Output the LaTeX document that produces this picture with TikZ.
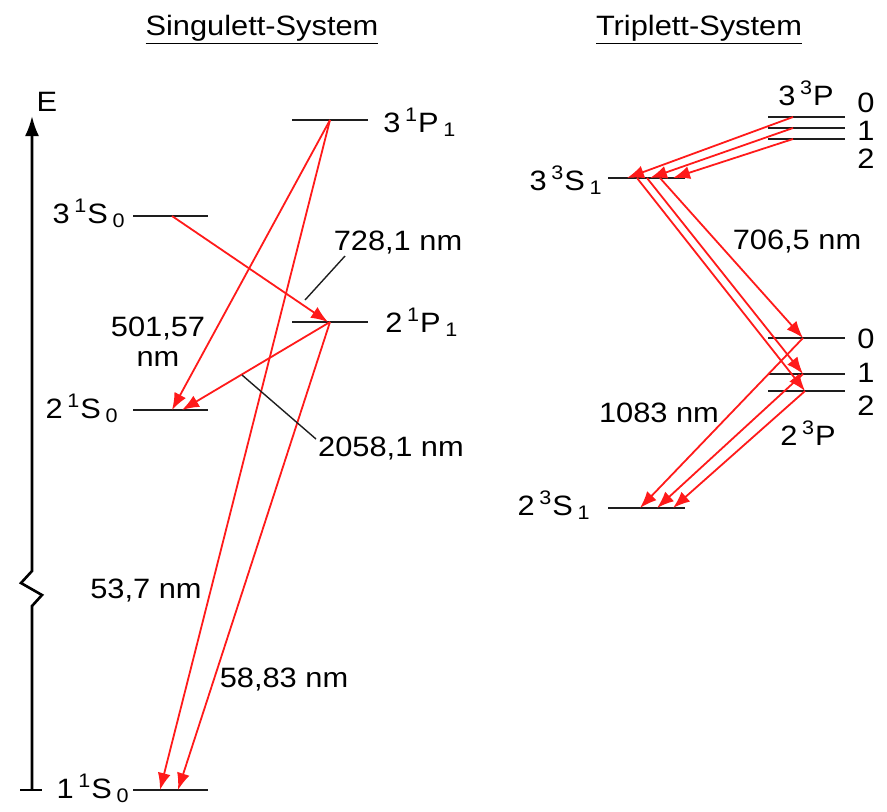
\documentclass[tikz,border=0pt]{standalone}
\usepackage{fontspec}
\setmainfont[FakeStretch=1.1]{Liberation Sans}
\usetikzlibrary{arrows.meta}
\definecolor{transred}{HTML}{FF1A1A}
\definecolor{levelink}{HTML}{1E1E1E}
\newcommand{\term}[4]{#1\,\textsuperscript{#2}#3\,\textsubscript{#4}}

\begin{document}
\begin{tikzpicture}[x=0.5pt, y=-0.5pt, font=\fontsize{14}{15}\selectfont,
  level/.style={levelink, line width=1.4pt},
  trans/.style={transred, line width=0.9pt, -{Latex[length=8.5pt, width=6.5pt]}},
  leader/.style={levelink, line width=0.7pt},
  wl/.style={inner sep=0pt, align=center},
  term/.style={inner sep=0pt, font=\fontsize{14}{15}\selectfont}]
  \useasboundingbox (0,0) rectangle (887,811);

  \node[wl] (singtitle) at (262,30) {\underline{Singulett-System}};
  \node[wl] (triptitle) at (699,30) {\underline{Triplett-System}};

  \coordinate (ebot) at (32,790);
  \coordinate (etop) at (32,116);
  \draw[line width=1.3pt, -{Latex[length=10pt, width=7pt]}]
    (ebot) -- (32,606) -- (42,595) -- (21,583) -- (32,571) -- (etop);
  \draw[line width=1.3pt] (20,790) -- (42,790);
  \node[wl] (elabel) at (47,102) {E};

  \foreach \xa/\xb/\y in {292/368/120, 133/208/216, 292/368/322, 133/208/410,
                          133/208/790, 608/685/178, 608/685/508,
                          768/845/117, 768/845/128, 768/845/139,
                          768/845/338, 768/845/374, 768/845/391}{%
    \draw[level] (\xa,\y) -- (\xb,\y);}

  \node[term, anchor=base west] (lab31P) at (383,132) {\term{3}{1}{P}{1}};
  \node[term, anchor=base east] (lab31S) at (126,223) {\term{3}{1}{S}{0}};
  \node[term, anchor=base west] (lab21P) at (385,332) {\term{2}{1}{P}{1}};
  \node[term, anchor=base east] (lab21S) at (119,418) {\term{2}{1}{S}{0}};
  \node[term, anchor=base east] (lab11S) at (130,798) {\term{1}{1}{S}{0}};
  \node[term, anchor=base east] (lab33S) at (603,190) {\term{3}{3}{S}{1}};
  \node[term, anchor=base east] (lab23S) at (591,515) {\term{2}{3}{S}{1}};
  \node[term, anchor=base west] (lab33P) at (778,105) {3\,\textsuperscript{3}P};
  \node[term, anchor=base west] (lab23P) at (780,445) {2\,\textsuperscript{3}P};
  \foreach \j/\y in {0/112, 1/140, 2/168}{%
    \node[term, anchor=base west] (j33P\j) at (857,\y) {\j};}
  \foreach \j/\y in {0/348, 1/382, 2/415}{%
    \node[term, anchor=base west] (j23P\j) at (857,\y) {\j};}

  \coordinate (s31P) at (330,120);
  \coordinate (s21P) at (330,322);
  \coordinate (s21Pin) at (328,322);
  \coordinate (s31S) at (172,216);
  \coordinate (s21Sa) at (172,410);
  \coordinate (s21Sb) at (182,410);
  \coordinate (s11Sa) at (160,790);
  \coordinate (s11Sb) at (178,790);

  \draw[trans] (s31P) -- (s21Sa);
  \draw[trans] (s31P) -- (s11Sa);
  \draw[trans] (s31S) -- (s21Pin);
  \draw[trans] (s21P) -- (s21Sb);
  \draw[trans] (s21P) -- (s11Sb);

  \node[wl] (w728) at (398,243) {728,1 nm};
  \node[wl] (w501) at (158,342) {501,57\\nm};
  \node[wl] (w2058) at (391,448) {2058,1 nm};
  \node[wl] (w537) at (146,590) {53,7 nm};
  \node[wl] (w5883) at (284,679) {58,83 nm};

  \coordinate (l728a) at (345,256);
  \coordinate (l728b) at (305,300);
  \coordinate (l2058a) at (242,375);
  \coordinate (l2058b) at (316,439);
  \draw[leader] (l728a) -- (l728b);
  \draw[leader] (l2058a) -- (l2058b);

  \coordinate (t33P0) at (793,117);
  \coordinate (t33P1) at (793,128);
  \coordinate (t33P2) at (793,139);
  \coordinate (t33Sa) at (627,178);
  \coordinate (t33Sb) at (650,178);
  \coordinate (t33Sc) at (673,178);
  \coordinate (t33Sd) at (660,178);
  \coordinate (t33Se) at (647,178);
  \coordinate (t33Sf) at (637,178);
  \coordinate (t23P0) at (803,338);
  \coordinate (t23P1) at (803,374);
  \coordinate (t23P2) at (805,391);
  \coordinate (t23Sa) at (640,508);
  \coordinate (t23Sb) at (657,508);
  \coordinate (t23Sc) at (673,508);

  \draw[trans] (t33P0) -- (t33Sa);
  \draw[trans] (t33P1) -- (t33Sb);
  \draw[trans] (t33P2) -- (t33Sc);
  \draw[trans] (t33Sd) -- (t23P0);
  \draw[trans] (t33Se) -- (t23P1);
  \draw[trans] (t33Sf) -- (t23P2);
  \draw[trans] (t23P0) -- (t23Sa);
  \draw[trans] (t23P1) -- (t23Sb);
  \draw[trans] (t23P2) -- (t23Sc);

  \node[wl] (w7065) at (797,242) {706,5 nm};
  \node[wl] (w1083) at (659,413) {1083 nm};
\end{tikzpicture}
\end{document}
